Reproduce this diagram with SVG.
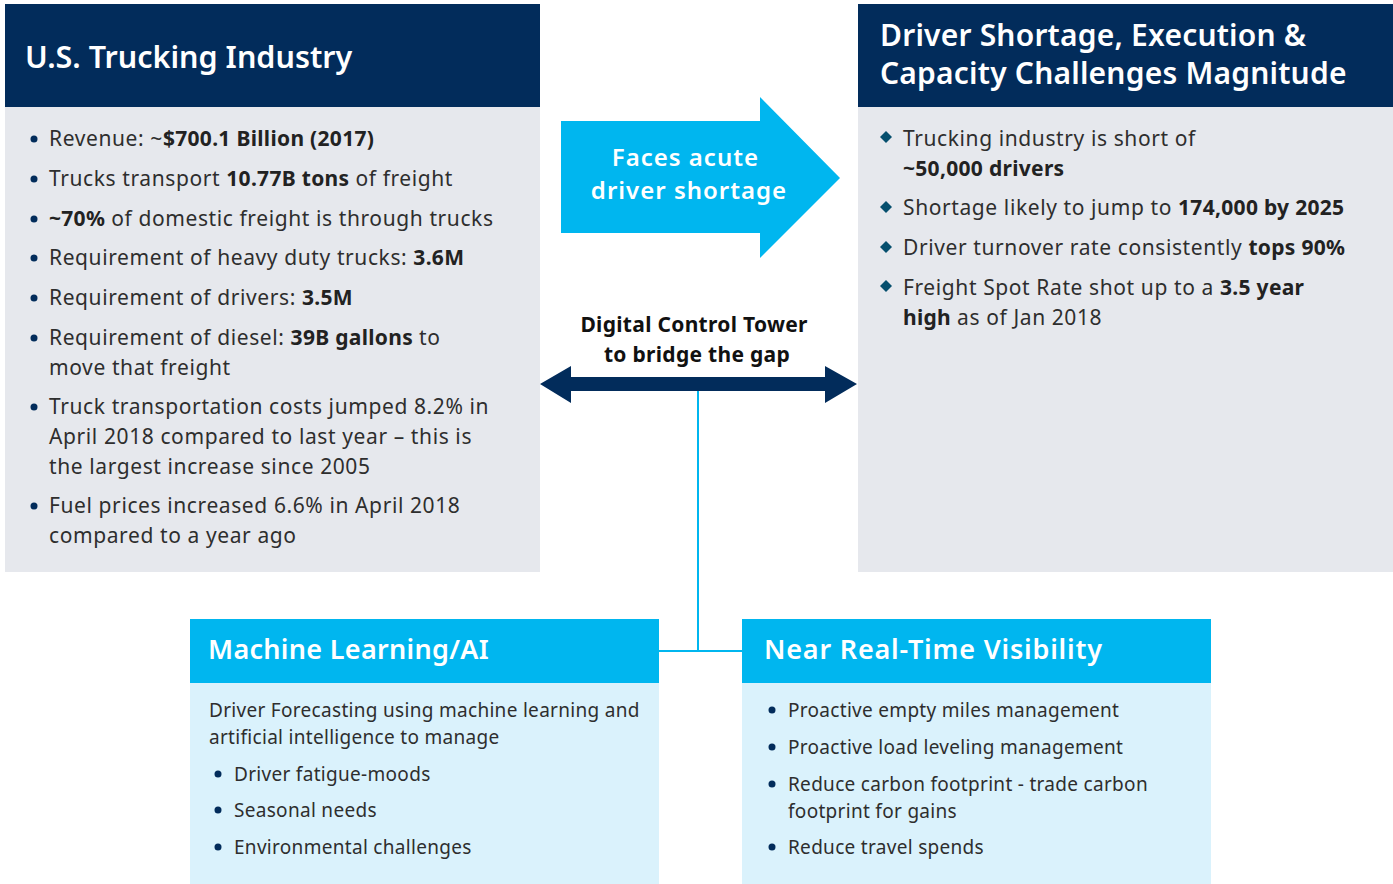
<svg xmlns="http://www.w3.org/2000/svg" width="1393" height="884" viewBox="0 0 1393 884">
  <style>
    .navy { fill: #022c5b; }
    .panel { fill: #e6e8ed; }
    .sky { fill: #00b6ef; }
    .pale { fill: #daf2fc; }
    .hdr { font-family: "Noto Sans", "Open Sans", sans-serif; font-weight: 600; fill: #ffffff; }
    .body { font-family: "Noto Sans", "Open Sans", sans-serif; font-size: 21px; letter-spacing: 0.6px; fill: #2e2e2e; }
    .small { font-family: "Noto Sans", "Open Sans", sans-serif; font-size: 19px; letter-spacing: 0.3px; fill: #2e2e2e; }
    .b { font-weight: 700; fill: #222222; letter-spacing: 0.3px; }
    .dot { fill: #022c5b; }
    .dia { fill: #064f6e; }
    .link { stroke: #00b6ef; stroke-width: 2; fill: none; }
  </style>

  <!-- Connectors -->
  <g id="connectors">
    <path d="M561 121 H760 V97 L840 178 L760 258 V233 H561 Z" class="sky"/>
    <path d="M540 384 L571 366 V377 H825 V366 L857 384 L825 403 V391 H571 V403 Z" class="navy"/>
    <path d="M698 391 V651 M659 651 H742" class="link"/>
    <text font-family="Noto Sans, sans-serif" font-size="24px" font-weight="600" letter-spacing="1px" fill="#ffffff" text-anchor="middle">
      <tspan x="689" y="166">Faces acute</tspan>
      <tspan x="689" y="199">driver shortage</tspan>
    </text>
    <text font-family="Noto Sans, sans-serif" font-size="21px" font-weight="700" letter-spacing="0.3px" fill="#111111" text-anchor="middle">
      <tspan x="697" y="332">Digital Control Tower</tspan>
      <tspan x="697" y="362">to bridge the gap</tspan>
    </text>
  </g>

  <!-- U.S. trucking industry facts -->
  <g id="us-trucking">
    <rect x="5" y="4" width="535" height="103" class="navy"/>
    <rect x="5" y="107" width="535" height="465" class="panel"/>
    <text x="25" y="68" class="hdr" font-size="30.5px">U.S. Trucking Industry</text>
    <g>
      <circle cx="34" cy="139" r="3.5" class="dot"/>
      <circle cx="34" cy="179" r="3.5" class="dot"/>
      <circle cx="34" cy="219" r="3.5" class="dot"/>
      <circle cx="34" cy="258" r="3.5" class="dot"/>
      <circle cx="34" cy="298" r="3.5" class="dot"/>
      <circle cx="34" cy="338" r="3.5" class="dot"/>
      <circle cx="34" cy="407" r="3.5" class="dot"/>
      <circle cx="34" cy="506" r="3.5" class="dot"/>
    </g>
    <text class="body">
      <tspan x="49" y="146">Revenue: ~<tspan class="b">$700.1 Billion (2017)</tspan></tspan>
      <tspan x="49" y="186">Trucks transport <tspan class="b">10.77B tons</tspan> of freight</tspan>
      <tspan x="49" y="226"><tspan class="b">~70%</tspan> of domestic freight is through trucks</tspan>
      <tspan x="49" y="265">Requirement of heavy duty trucks: <tspan class="b">3.6M</tspan></tspan>
      <tspan x="49" y="305">Requirement of drivers: <tspan class="b">3.5M</tspan></tspan>
      <tspan x="49" y="345">Requirement of diesel: <tspan class="b">39B gallons</tspan> to</tspan>
      <tspan x="49" y="375">move that freight</tspan>
      <tspan x="49" y="414">Truck transportation costs jumped 8.2% in</tspan>
      <tspan x="49" y="444">April 2018 compared to last year – this is</tspan>
      <tspan x="49" y="474">the largest increase since 2005</tspan>
      <tspan x="49" y="513">Fuel prices increased 6.6% in April 2018</tspan>
      <tspan x="49" y="543">compared to a year ago</tspan>
    </text>
  </g>

  <!-- Shortage and capacity challenges -->
  <g id="challenges">
    <rect x="858" y="4" width="535" height="103" class="navy"/>
    <rect x="858" y="107" width="535" height="465" class="panel"/>
    <text class="hdr" font-size="30px" letter-spacing="0.2px">
      <tspan x="880" y="46">Driver Shortage, Execution &amp;</tspan>
      <tspan x="880" y="84">Capacity Challenges Magnitude</tspan>
    </text>
    <g>
      <path d="M886 131 l6 6 l-6 6 l-6 -6 Z" class="dia"/>
      <path d="M886 201 l6 6 l-6 6 l-6 -6 Z" class="dia"/>
      <path d="M886 241 l6 6 l-6 6 l-6 -6 Z" class="dia"/>
      <path d="M886 280 l6 6 l-6 6 l-6 -6 Z" class="dia"/>
    </g>
    <text class="body">
      <tspan x="903" y="146">Trucking industry is short of</tspan>
      <tspan x="903" y="176" class="b">~50,000 drivers</tspan>
      <tspan x="903" y="215">Shortage likely to jump to <tspan class="b">174,000 by 2025</tspan></tspan>
      <tspan x="903" y="255">Driver turnover rate consistently <tspan class="b">tops 90%</tspan></tspan>
      <tspan x="903" y="295">Freight Spot Rate shot up to a <tspan class="b">3.5 year</tspan></tspan>
      <tspan x="903" y="325"><tspan class="b">high</tspan> as of Jan 2018</tspan>
    </text>
  </g>

  <!-- Machine learning / AI -->
  <g id="ml-ai">
    <rect x="190" y="619" width="469" height="64" class="sky"/>
    <rect x="190" y="683" width="469" height="201" class="pale"/>
    <text x="208" y="659" class="hdr" font-size="27px" letter-spacing="0.3px">Machine Learning/AI</text>
    <circle cx="218" cy="774" r="3.5" class="dot"/>
    <circle cx="218" cy="810" r="3.5" class="dot"/>
    <circle cx="218" cy="847" r="3.5" class="dot"/>
    <text class="small">
      <tspan x="209" y="717">Driver Forecasting using machine learning and</tspan>
      <tspan x="209" y="744">artificial intelligence to manage</tspan>
      <tspan x="234" y="781">Driver fatigue-moods</tspan>
      <tspan x="234" y="817">Seasonal needs</tspan>
      <tspan x="234" y="854">Environmental challenges</tspan>
    </text>
  </g>

  <!-- Near real-time visibility -->
  <g id="visibility">
    <rect x="742" y="619" width="469" height="64" class="sky"/>
    <rect x="742" y="683" width="469" height="201" class="pale"/>
    <text x="764" y="659" class="hdr" font-size="27px" letter-spacing="0.8px">Near Real-Time Visibility</text>
    <circle cx="772" cy="710" r="3.5" class="dot"/>
    <circle cx="772" cy="747" r="3.5" class="dot"/>
    <circle cx="772" cy="784" r="3.5" class="dot"/>
    <circle cx="772" cy="847" r="3.5" class="dot"/>
    <text class="small">
      <tspan x="788" y="717">Proactive empty miles management</tspan>
      <tspan x="788" y="754">Proactive load leveling management</tspan>
      <tspan x="788" y="791">Reduce carbon footprint - trade carbon</tspan>
      <tspan x="788" y="818">footprint for gains</tspan>
      <tspan x="788" y="854">Reduce travel spends</tspan>
    </text>
  </g>
</svg>
